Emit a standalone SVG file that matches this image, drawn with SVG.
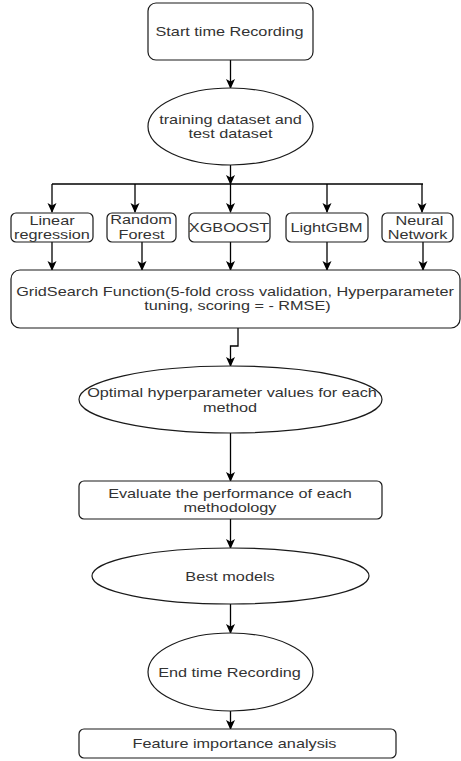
<svg xmlns="http://www.w3.org/2000/svg" width="461" height="761" viewBox="0 0 461 761">
<defs>
<marker id="arr" markerUnits="userSpaceOnUse" markerWidth="11" markerHeight="10" refX="9" refY="5" orient="auto">
<path d="M0,0.5 L10,5 L0,9.5 L2.5,5 Z" fill="#000"/>
</marker>
<style>
.shape{fill:#fff;stroke:#1a1a1a;stroke-width:1.2}
.edge{fill:none;stroke:#000;stroke-width:1.3}
.arrow{marker-end:url(#arr)}
text{font-family:"Liberation Sans",Arial,sans-serif;font-size:13px;fill:#333;text-anchor:middle}
</style>
</defs>
<rect width="461" height="761" fill="#fff"/>
<g id="connectors">
<line class="edge arrow" x1="230.5" y1="60" x2="230.5" y2="88"/>
<line class="edge arrow" x1="230.5" y1="165" x2="230.5" y2="184"/>
<line class="edge" x1="52" y1="184" x2="423" y2="184"/>
<line class="edge arrow" x1="52" y1="184" x2="52" y2="212"/>
<line class="edge arrow" x1="135" y1="184" x2="135" y2="212"/>
<line class="edge arrow" x1="230.5" y1="184" x2="230.5" y2="212"/>
<line class="edge arrow" x1="327" y1="184" x2="327" y2="212"/>
<line class="edge arrow" x1="422" y1="184" x2="422" y2="212"/>
<line class="edge arrow" x1="52" y1="242" x2="52" y2="270"/>
<line class="edge arrow" x1="142" y1="242" x2="142" y2="270"/>
<line class="edge arrow" x1="230.5" y1="242" x2="230.5" y2="270"/>
<line class="edge arrow" x1="327" y1="242" x2="327" y2="270"/>
<line class="edge arrow" x1="423" y1="242" x2="423" y2="270"/>
<polyline class="edge arrow" points="238,328 238,346 230.5,346 230.5,366"/>
<line class="edge arrow" x1="230.5" y1="433" x2="230.5" y2="481"/>
<line class="edge arrow" x1="230.5" y1="519" x2="230.5" y2="548"/>
<line class="edge arrow" x1="230.5" y1="604" x2="230.5" y2="633"/>
<line class="edge arrow" x1="230.5" y1="711" x2="230.5" y2="729"/>
</g>
<g id="start">
<rect class="shape" x="148" y="3" width="165" height="57" rx="8"/>
<text transform="matrix(1.25 0 0 1 229.5 35.5)">Start time Recording</text>
</g>
<g id="datasets">
<ellipse class="shape" cx="230.5" cy="126.5" rx="82.5" ry="38.5"/>
<text transform="matrix(1.25 0 0 1 230.5 123.5)">training dataset and</text>
<text transform="matrix(1.25 0 0 1 230.5 137.5)">test dataset</text>
</g>
<g id="linear">
<rect class="shape" x="11" y="213" width="82" height="29" rx="5"/>
<text transform="matrix(1.25 0 0 1 52 224.5)">Linear</text>
<text transform="matrix(1.25 0 0 1 52 238.5)">regression</text>
</g>
<g id="randomforest">
<rect class="shape" x="107" y="213" width="69" height="29" rx="5"/>
<text transform="matrix(1.25 0 0 1 141 224)">Random</text>
<text transform="matrix(1.25 0 0 1 141.5 238.5)">Forest</text>
</g>
<g id="xgboost">
<rect class="shape" x="189" y="213" width="81" height="29" rx="5"/>
<text transform="matrix(1.25 0 0 1 229 231.5)">XGBOOST</text>
</g>
<g id="lightgbm">
<rect class="shape" x="286" y="213" width="82" height="29" rx="5"/>
<text transform="matrix(1.25 0 0 1 326.5 231.5)">LightGBM</text>
</g>
<g id="neuralnetwork">
<rect class="shape" x="382" y="213" width="71" height="29" rx="5"/>
<text transform="matrix(1.25 0 0 1 419.5 224.5)">Neural</text>
<text transform="matrix(1.25 0 0 1 417.5 238.5)">Network</text>
</g>
<g id="gridsearch">
<rect class="shape" x="11" y="270" width="449" height="58" rx="9"/>
<text transform="matrix(1.25 0 0 1 235 295.5)">GridSearch Function(5-fold cross validation, Hyperparameter</text>
<text transform="matrix(1.25 0 0 1 237.5 309.5)">tuning, scoring = - RMSE)</text>
</g>
<g id="optimal">
<ellipse class="shape" cx="230.5" cy="399.5" rx="151.5" ry="33.5"/>
<text transform="matrix(1.25 0 0 1 232 396.5)">Optimal hyperparameter values for each</text>
<text transform="matrix(1.25 0 0 1 230 411.5)">method</text>
</g>
<g id="evaluate">
<rect class="shape" x="79" y="481" width="303" height="38" rx="5"/>
<text transform="matrix(1.25 0 0 1 230 497.5)">Evaluate the performance of each</text>
<text transform="matrix(1.25 0 0 1 230 511.5)">methodology</text>
</g>
<g id="best">
<ellipse class="shape" cx="230.5" cy="576" rx="138.5" ry="28"/>
<text transform="matrix(1.25 0 0 1 230 580.5)">Best models</text>
</g>
<g id="end">
<ellipse class="shape" cx="230.5" cy="672" rx="82.5" ry="39"/>
<text transform="matrix(1.25 0 0 1 229.5 676.5)">End time Recording</text>
</g>
<g id="feature">
<rect class="shape" x="79" y="729" width="317" height="29" rx="5"/>
<text transform="matrix(1.25 0 0 1 234.5 747.5)">Feature importance analysis</text>
</g>
</svg>
